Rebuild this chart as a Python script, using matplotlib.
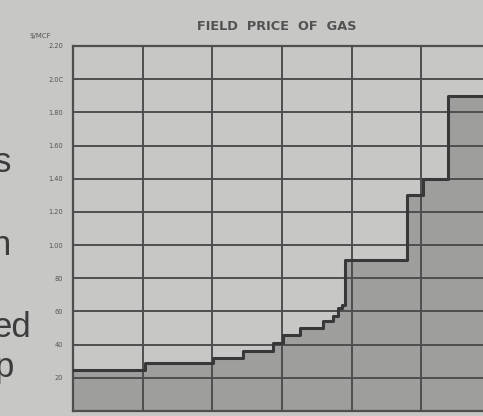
import numpy as np
import matplotlib.pyplot as plt

# field price of gas, $/MCF, as a step series (value holds from each year on)
years = [1970.0, 1972.07, 1974.02, 1974.88, 1975.74, 1976.03, 1976.51, 1977.17,
         1977.46, 1977.60, 1977.72, 1977.80, 1979.58, 1980.04, 1980.76, 1982.0]
prices = [0.25, 0.29, 0.32, 0.36, 0.41, 0.46, 0.50, 0.54,
          0.57, 0.62, 0.64, 0.91, 1.30, 1.40, 1.90, 1.90]

ytick_vals = [0.2, 0.4, 0.6, 0.8, 1.0, 1.2, 1.4, 1.6, 1.8, 2.0, 2.2]
ytick_labels = ['20', '40', '60', '80', '1.00', '1.20', '1.40', '1.60', '1.80', '2.0C', '2.20']
xtick_vals = [1970, 1972, 1974, 1976, 1978, 1980, 1982]

# bits of the facing page's text that show at the left edge
side_words = ['s', 'n', 'ed', 'p']
side_baselines = [172, 255, 337, 377]
side_x = [-6, -8, -7, -5]

paper = '#c7c7c5'
fill = '#9e9e9d'
ink = '#4e4e4e'

W, H = 483, 416
fig = plt.figure(figsize=(W / 100, H / 100), dpi=100)
fig.patch.set_facecolor(paper)

# axes runs past the right edge of the picture, like the cropped scan
ax = fig.add_axes([73 / W, 5 / H, 418 / W, 365 / H])
ax.set_facecolor(paper)

ax.fill_between(years, prices, step='post', color=fill, zorder=1, lw=0)
ax.set_xlim(1970, 1982)
ax.set_ylim(0, 2.2)

ax.set_yticks(ytick_vals)
ax.set_yticklabels(ytick_labels, fontsize=4.8, color='#555555')
ax.set_xticks(xtick_vals)
ax.set_xticklabels([])
ax.tick_params(length=0, pad=7)
ax.grid(True, color=ink, lw=1.4, zorder=2)
ax.set_axisbelow(False)
ax.step(years, prices, where='post', color='#383838', lw=2.2, zorder=3)

for side in ['left', 'bottom', 'top', 'right']:
    ax.spines[side].set_color(ink)
    ax.spines[side].set_linewidth(1.6)

fig.text(277 / W, 1 - 27 / H, 'FIELD  PRICE  OF  GAS', ha='center', va='center',
         fontsize=9.3, fontweight='bold', color='#525252', family='DejaVu Sans')
fig.text(40 / W, 1 - 36 / H, '$/MCF', ha='center', va='center',
         fontsize=5, color='#555555')

for s, yb, xs in zip(side_words, side_baselines, side_x):
    fig.text(xs / W, 1 - yb / H, s, ha='left', va='baseline', fontsize=25,
             color='#3c3c3c', family='Liberation Sans')

fig.savefig('out.png', dpi=100, facecolor=paper)
